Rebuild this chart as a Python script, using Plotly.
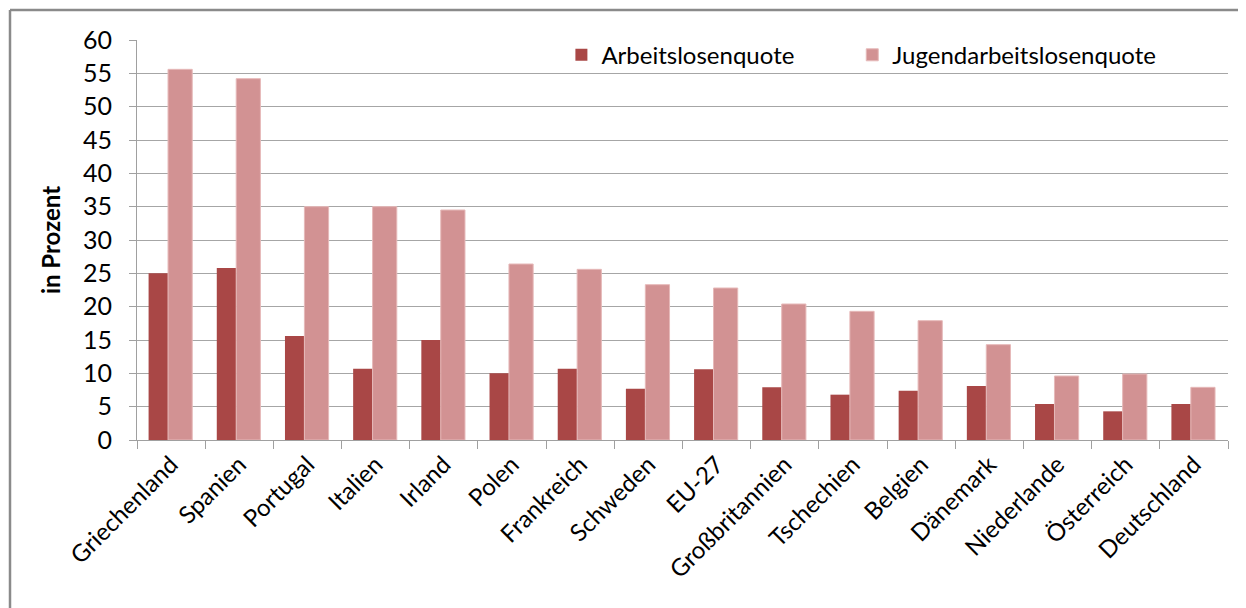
import plotly.graph_objects as go

laender = ["Griechenland", "Spanien", "Portugal", "Italien", "Irland", "Polen",
           "Frankreich", "Schweden", "EU-27", "Großbritannien", "Tschechien",
           "Belgien", "Dänemark", "Niederlande", "Österreich", "Deutschland"]
arbeitslosenquote = [25.0, 25.8, 15.6, 10.7, 15.0, 10.0,
                     10.7, 7.7, 10.6, 7.9, 6.8,
                     7.4, 8.1, 5.4, 4.3, 5.4]
jugendquote = [55.6, 54.2, 35.0, 35.0, 34.5, 26.4,
               25.6, 23.3, 22.8, 20.4, 19.3,
               17.9, 14.3, 9.6, 9.9, 7.9]
y_ticks = list(range(0, 61, 5))

font_name = "Lato, Open Sans, sans-serif"

# page body adds an 8px margin, so the figure is 8px smaller and shifted
W, H = 1238, 600
L, T, R, B = 129, 32, 18, 168
pw, ph = W - L - R, H - T - B

fig = go.Figure()
fig.add_bar(x=laender, y=arbeitslosenquote, name="Arbeitslosenquote",
            marker=dict(color="#A94746", line=dict(width=0)),
            offset=-0.33, width=0.285, legend="legend", showlegend=True)
fig.add_bar(x=laender, y=jugendquote, name="Jugendarbeitslosenquote",
            marker=dict(color="#D29293", line=dict(color="#E6B9B9", width=1)),
            offset=-0.045, width=0.355, legend="legend2", showlegend=True)

leg = dict(orientation="h", y=0.962, xanchor="left", yanchor="middle",
           bgcolor="rgba(0,0,0,0)", font=dict(size=24), itemwidth=30)

fig.update_layout(
    width=W, height=H,
    margin=dict(l=L, r=R, t=T, b=B),
    paper_bgcolor="white", plot_bgcolor="white",
    font=dict(family=font_name, size=24, color="black"),
    barmode="group",
    showlegend=True,
    legend=dict(leg, x=0.389),
    legend2=dict(leg, x=0.6556),
    xaxis=dict(type="category", tickangle=-45, showline=True, linecolor="#A0A0A0",
               linewidth=1, ticks="outside", ticklen=8, tickcolor="#A0A0A0",
               tickson="boundaries", showgrid=False, range=[-0.5, 15.5],
               tickfont=dict(size=24)),
    yaxis=dict(range=[0, 60], tickvals=y_ticks, showline=True, linecolor="#A0A0A0",
               linewidth=1, ticks="outside", ticklen=7, tickcolor="#A0A0A0",
               ticklabelstandoff=12,
               showgrid=True, gridcolor="#A6A6A6", gridwidth=1,
               tickfont=dict(size=25),
               title=dict(text="<b>in Prozent</b>", font=dict(size=24), standoff=15)),
    shapes=[
        dict(type="line", xref="paper", yref="paper",
             x0=(2 - L) / pw, x1=1.05, y0=(H - 2 - B) / ph, y1=(H - 2 - B) / ph,
             line=dict(color="#8A8A8A", width=2.5)),
        dict(type="line", xref="paper", yref="paper",
             x0=(2 - L) / pw, x1=(2 - L) / pw, y0=(H - 2 - B) / ph, y1=-0.5,
             line=dict(color="#8A8A8A", width=2.5)),
    ],
)

fig.write_html("out.html")
